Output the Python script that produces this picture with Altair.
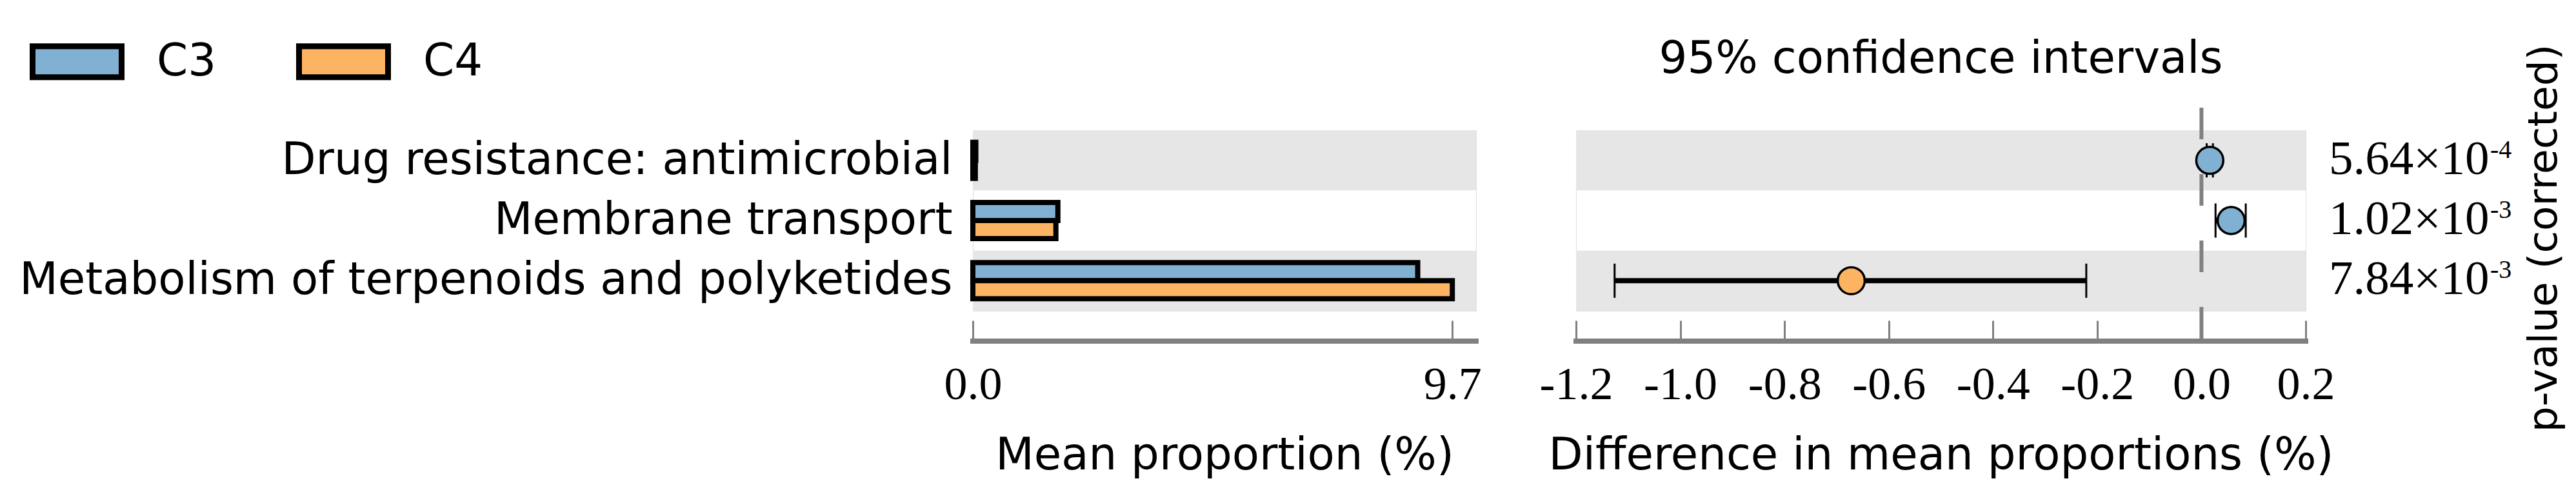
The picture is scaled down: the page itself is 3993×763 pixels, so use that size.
import altair as alt
import pandas as pd

# ---------------- data ----------------
categories = ["Drug resistance: antimicrobial", "Membrane transport",
              "Metabolism of terpenoids and polyketides"]
groups = ["C3", "C4"]
group_colors = ["#80b1d3", "#fdb462"]
mean_c3 = [0.06, 1.72, 9.00]
mean_c4 = [0.05, 1.68, 9.70]
diff_mean = [0.016, 0.057, -0.672]
ci_low = [0.010, 0.027, -1.126]
ci_high = [0.022, 0.085, -0.221]
p_mantissa = ["5.64×10", "1.02×10", "7.84×10"]
p_exponent = ["-4", "-3", "-3"]
shaded_rows = [True, False, True]
mean_ticks = [0.0, 9.7]
diff_ticks = [-1.2, -1.0, -0.8, -0.6, -0.4, -0.2, 0.0, 0.2]
ci_title = ["95% confidence intervals"]

bars_df = pd.DataFrame({
    "category": categories * 2,
    "group": ["C3"] * 3 + ["C4"] * 3,
    "value": mean_c3 + mean_c4,
})
diff_df = pd.DataFrame({
    "category": categories,
    "diff": diff_mean,
    "lo": ci_low,
    "hi": ci_high,
    "favours": ["C3" if d > 0 else "C4" for d in diff_mean],
    "mant": p_mantissa,
    "exp": p_exponent,
})
band_df = pd.DataFrame({"category": [c for c, s in zip(categories, shaded_rows) if s]})
one_df = pd.DataFrame({"k": [0]})
title_df = pd.DataFrame({"t": ci_title})

# ---------------- layout constants ----------------
W1, W2, H = 780, 1131, 280
GREY = "#808080"
SANS = "DejaVu Sans"
SERIF = "Liberation Serif"

yscale = alt.Scale(domain=categories, paddingInner=0, paddingOuter=0)
color_scale = alt.Scale(domain=groups, range=group_colors)
legend = alt.Legend(
    title=None, orient="none", legendX=-1462, legendY=-180, direction="horizontal",
    symbolType="M-1,-0.348H1V0.348H-1Z", symbolSize=19044,
    symbolStrokeColor="black", symbolStrokeWidth=9, symbolOpacity=1,
    labelFont=SANS, labelFontSize=69, labelColor="black", labelOffset=50,
    columnPadding=109, padding=0, labelLimit=1000,
)


def x_axis(values, title, width, label_expr=None):
    kw = dict(
        values=values, format=".1f", title=title, domain=False, grid=False,
        ticks=True, tickSize=32, tickWidth=3, tickColor=GREY, offset=15,
        labelFont=SERIF, labelFontSize=72, labelColor="black",
        labelBaseline="alphabetic", labelPadding=89, labelFlush=False,
        labelOverlap=False, labelLimit=1000,
        titleFont=SANS, titleFontSize=69, titleFontWeight="normal",
        titleColor="black", titleBaseline="alphabetic", titleAlign="center",
        titleX=width / 2, titleY=230,
    )
    if label_expr:
        kw["labelExpr"] = label_expr
    return alt.Axis(**kw)


# ---------------- left panel: mean proportions ----------------
yaxis_left = alt.Axis(
    title=None, domain=False, ticks=False, grid=False,
    labelFont=SANS, labelFontSize=69, labelColor="black", labelPadding=32,
    labelBaseline="alphabetic", labelOffset=21, labelLimit=3000,
)
xscale_left = alt.Scale(domain=[0, 10.18], nice=False, zero=True)

left_band = alt.Chart(band_df).mark_rect(color="#e6e6e6").encode(
    y=alt.Y("category:N", scale=yscale, sort=categories, axis=yaxis_left),
    x=alt.value(0), x2=alt.value(W1),
)
left_bars = alt.Chart(bars_df).mark_bar(stroke="black", strokeWidth=8, opacity=1).encode(
    x=alt.X("value:Q", scale=xscale_left,
            axis=x_axis(mean_ticks, "Mean proportion (%)", W1)),
    y=alt.Y("category:N", scale=yscale, sort=categories),
    yOffset=alt.YOffset("group:N", sort=groups,
                        scale=alt.Scale(domain=groups, paddingInner=0, paddingOuter=0.667)),
    color=alt.Color("group:N", scale=color_scale, legend=legend),
)
left_line = alt.Chart(one_df).mark_rule(color=GREY, strokeWidth=8, strokeCap="square").encode(
    x=alt.value(0), x2=alt.value(W1), y=alt.value(H + 47),
)
left = alt.layer(left_band, left_bars, left_line).properties(width=W1, height=H)

# ---------------- right panel: differences ----------------
yaxis_right = alt.Axis(
    orient="right", title="p-value (corrected)", labels=False, ticks=False,
    domain=False, grid=False, titleFont=SANS, titleFontSize=63,
    titleFontWeight="normal", titleColor="black", titleAngle=270,
    titleAlign="center", titleBaseline="middle", titleX=369, titleY=167,
)
xscale_right = alt.Scale(domain=[-1.2, 0.2], nice=False, zero=False)

right_band = alt.Chart(band_df).mark_rect(color="#e6e6e6").encode(
    y=alt.Y("category:N", scale=yscale, sort=categories, axis=yaxis_right),
    x=alt.value(0), x2=alt.value(W2),
)
zero_line = alt.Chart(one_df).mark_rule(color=GREY, strokeWidth=6, strokeDash=[49, 54]).encode(
    x=alt.datum(0), y=alt.value(-35), y2=alt.value(H + 47),
)
right_line = alt.Chart(one_df).mark_rule(color=GREY, strokeWidth=8, strokeCap="square").encode(
    x=alt.value(0), x2=alt.value(W2), y=alt.value(H + 47),
)
ci_rule = alt.Chart(diff_df).mark_rule(color="black", strokeWidth=8).encode(
    x=alt.X("lo:Q", scale=xscale_right,
            axis=x_axis(diff_ticks, "Difference in mean proportions (%)", W2,
                        "replace(format(datum.value, '.1f'), '\u2212', '-')")),
    x2="hi:Q",
    y=alt.Y("category:N", scale=yscale, sort=categories),
)
cap_lo = alt.Chart(diff_df).mark_tick(color="black", thickness=3, size=53, opacity=1).encode(
    x="lo:Q", y=alt.Y("category:N", scale=yscale, sort=categories),
)
cap_hi = alt.Chart(diff_df).mark_tick(color="black", thickness=3, size=53, opacity=1).encode(
    x="hi:Q", y=alt.Y("category:N", scale=yscale, sort=categories),
)
points = alt.Chart(diff_df).mark_point(
    filled=True, shape="circle", size=1750, stroke="black", strokeWidth=3.5, opacity=1
).encode(
    x="diff:Q", y=alt.Y("category:N", scale=yscale, sort=categories),
    color=alt.Color("favours:N", scale=color_scale, legend=legend),
)
p_main = alt.Chart(diff_df).mark_text(
    align="left", baseline="alphabetic", font=SERIF, fontSize=75, dy=21, color="black"
).encode(
    x=alt.value(1167), y=alt.Y("category:N", scale=yscale, sort=categories), text="mant:N",
)
p_exp = alt.Chart(diff_df).mark_text(
    align="left", baseline="alphabetic", font=SERIF, fontSize=40, dy=-4, color="black"
).encode(
    x=alt.value(1417), y=alt.Y("category:N", scale=yscale, sort=categories), text="exp:N",
)
panel_title = alt.Chart(title_df).mark_text(
    align="center", baseline="alphabetic", font=SANS, fontSize=69, color="black"
).encode(
    x=alt.value(W2 / 2), y=alt.value(-89), text="t:N",
)
right = alt.layer(
    right_band, zero_line, right_line, ci_rule, cap_lo, cap_hi, points, p_main, p_exp,
    panel_title,
).properties(width=W2, height=H)

chart = alt.hconcat(left, right, spacing=155, bounds="flush").properties(
    padding={"left": 21, "top": 14, "right": 5, "bottom": 5},
).configure_view(stroke=None).configure(background="white")

chart.save("out.html", embed_options={"renderer": "svg", "actions": False})
